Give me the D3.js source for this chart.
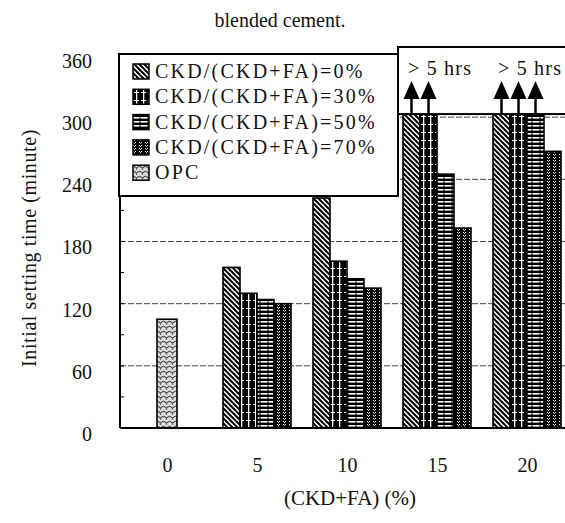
<!DOCTYPE html>
<html><head><meta charset="utf-8">
<script src="https://cdn.jsdelivr.net/npm/d3@7"></script>
<style>
body{margin:0;background:#fff;}
svg{display:block;}
</style></head>
<body>
<svg id="chart" width="565" height="523"></svg>
<script>
// ---- data ----
const categories = [0, 5, 10, 15, 20];
const seriesNames = ["CKD/(CKD+FA)=0%", "CKD/(CKD+FA)=30%", "CKD/(CKD+FA)=50%", "CKD/(CKD+FA)=70%"];
const ckd0  = [null, 155, 222, 303, 303];
const ckd30 = [null, 130, 161, 303, 303];
const ckd50 = [null, 124, 144, 245, 303];
const ckd70 = [null, 120, 135, 193, 267];
const opc   = [105, null, null, null, null];
const over5hrs0  = [false, false, false, true, true];
const over5hrs30 = [false, false, false, true, true];
const over5hrs50 = [false, false, false, false, true];
const over5hrs70 = [false, false, false, false, false];
const yTicks = [0, 60, 120, 180, 240, 300, 360];
const overLabel = "> 5 hrs";
const overLabelGroups = [15, 20];
const title = "blended cement.";
const xTitle = "(CKD+FA) (%)";
const yTitle = "Initial setting time (minute)";

const FONT = "'Liberation Serif', 'Times New Roman', serif";
const svg = d3.select("#chart").attr("font-family", FONT).style("font-family", FONT);
const defs = svg.append("defs");

function txt(sel){ return sel.style("font-family", FONT).attr("fill", "#111"); }

// patterns
function pat(id, w, h, bg, draw){
  const p = defs.append("pattern").attr("id", id).attr("patternUnits","userSpaceOnUse")
    .attr("width", w).attr("height", h);
  p.append("rect").attr("width", w).attr("height", h).attr("fill", bg);
  draw(p);
}
pat("p0", 5, 5, "#fff", p => {
  p.append("path").attr("d","M-1,-1 L6,6 M-1,4 L1,6 M4,-1 L6,1").attr("stroke","#000").attr("stroke-width",2);
});
pat("p30", 7, 8, "#000", p => {
  p.append("rect").attr("x",3).attr("y",0).attr("width",1.3).attr("height",8).attr("fill","#fff");
  p.append("rect").attr("x",1).attr("y",4).attr("width",5).attr("height",1).attr("fill","#fff");
});
pat("p50", 8, 4, "#000", p => {
  p.append("rect").attr("x",0).attr("y",1).attr("width",3.5).attr("height",1.6).attr("fill","#fff");
  p.append("rect").attr("x",4.5).attr("y",1).attr("width",3.5).attr("height",1.6).attr("fill","#fff");
});
pat("p70", 6, 6, "#000", p => {
  p.append("path").attr("d","M1,1 L2.5,2.5 L4,1 M1,4 L2.5,5.5 L4,4").attr("stroke","#fff").attr("stroke-width",1).attr("fill","none");
});
pat("popc", 6, 5, "#ddd", p => {
  p.append("path").attr("d","M0,2 Q1.5,0.5 3,2 T6,2").attr("stroke","#222").attr("stroke-width",1).attr("fill","none");
  p.append("circle").attr("cx",4.5).attr("cy",4).attr("r",0.8).attr("fill","#333");
});
const fills = ["url(#p0)","url(#p30)","url(#p50)","url(#p70)"];

// scales
const x = d3.scalePoint().domain(categories).range([167, 527]);
const y = d3.scaleLinear().domain([0, 360]).range([428, 55]);
const barW = 17;
const plotL = 120, plotR = 565;

// title
txt(svg.append("text")).attr("x", 280).attr("y", 27).attr("text-anchor","middle")
  .style("font-size","20px").text(title);

// gridlines
const grid = svg.append("g");
yTicks.filter(v => v > 0 && v < 360).forEach(v => {
  grid.append("line").attr("x1", plotL).attr("x2", plotR).attr("y1", y(v)).attr("y2", y(v))
    .attr("stroke","#333").attr("stroke-width",0.9).attr("stroke-dasharray","6,2");
});

// y axis
const yAxis = d3.axisLeft(y).tickValues(yTicks).tickSize(0).tickPadding(28);
const gy = svg.append("g").attr("transform", `translate(${plotL},0)`).call(yAxis);
gy.attr("font-family", FONT).attr("font-size", 20);
gy.select(".domain").remove();
txt(gy.selectAll("text")).style("font-size","20px").attr("dy","0.62em");
// minor inner ticks
d3.range(30, 360, 30).forEach(v => {
  svg.append("line").attr("x1", plotL).attr("x2", plotL + 4).attr("y1", y(v)).attr("y2", y(v))
    .attr("stroke","#000").attr("stroke-width",1);
});

// x axis (labels only)
const xAxis = d3.axisBottom(x).tickSize(0).tickPadding(30);
const gx = svg.append("g").attr("transform", `translate(0,${y(0)})`).call(xAxis);
gx.attr("font-family", FONT).attr("font-size", 20);
gx.select(".domain").remove();
txt(gx.selectAll("text")).style("font-size","20px");

// bars
const series = [ckd0, ckd30, ckd50, ckd70];
const overs = [over5hrs0, over5hrs30, over5hrs50, over5hrs70];
const bars = svg.append("g");
series.forEach((vals, si) => {
  categories.forEach((c, ci) => {
    const v = vals[ci];
    if (v == null) return;
    const bx = x(c) + (si - 2) * barW;
    bars.append("rect").attr("x", bx).attr("y", y(v)).attr("width", barW).attr("height", y(0) - y(v))
      .attr("fill", fills[si]).attr("stroke","#000").attr("stroke-width",1.6);
  });
});
categories.forEach((c, ci) => {
  const v = opc[ci];
  if (v == null) return;
  bars.append("rect").attr("x", x(c) - 10).attr("y", y(v)).attr("width", 20).attr("height", y(0) - y(v))
    .attr("fill","url(#popc)").attr("stroke","#000").attr("stroke-width",1.6);
});

// axes lines
svg.append("line").attr("x1", plotL).attr("x2", plotL).attr("y1", 54).attr("y2", y(0))
  .attr("stroke","#000").attr("stroke-width",2);
svg.append("line").attr("x1", plotL).attr("x2", plotR).attr("y1", y(0)).attr("y2", y(0))
  .attr("stroke","#000").attr("stroke-width",2);

// legend box
const lg = svg.append("g");
lg.append("rect").attr("x", 119).attr("y", 54).attr("width", 279).attr("height", 142)
  .attr("fill","#fff").attr("stroke","#000").attr("stroke-width",2);
const legendItems = seriesNames.map((n, i) => ({name: n, fill: fills[i]})).concat([{name:"OPC", fill:"url(#popc)"}]);
legendItems.forEach((d, i) => {
  const cy = 71 + i * 25.3;
  lg.append("rect").attr("x", 133).attr("y", cy - 7).attr("width", 16).attr("height", 15)
    .attr("fill", d.fill).attr("stroke","#000").attr("stroke-width",1.5);
  txt(lg.append("text")).attr("x", 155).attr("y", cy + 7)
    .style("font-size","20px").style("letter-spacing", "2.2px").text(d.name);
});

// > 5 hrs box
const ob = svg.append("g");
ob.append("rect").attr("x", 398).attr("y", 47).attr("width", 180).attr("height", y(303) - 47)
  .attr("fill","#fff").attr("stroke","#000").attr("stroke-width",2);
overLabelGroups.forEach(c => {
  txt(ob.append("text")).attr("x", x(c) - 29).attr("y", 75)
    .style("font-size","20px").style("letter-spacing","1.2px").text(overLabel);
});
// arrows
overs.forEach((fl, si) => {
  categories.forEach((c, ci) => {
    if (!fl[ci]) return;
    const cx = x(c) + (si - 2) * barW + barW / 2;
    const top = y(series[si][ci]);
    ob.append("line").attr("x1", cx).attr("x2", cx).attr("y1", top).attr("y2", top - 20)
      .attr("stroke","#000").attr("stroke-width",2.5);
    ob.append("path").attr("d", `M${cx - 8},${top - 15} L${cx + 8},${top - 15} L${cx},${top - 33} Z`)
      .attr("fill","#000");
  });
});

// axis titles
txt(svg.append("text")).attr("x", 350).attr("y", 505).attr("text-anchor","middle")
  .style("font-size","21px").text(xTitle);
txt(svg.append("text")).attr("transform","translate(36,248) rotate(-90)").attr("text-anchor","middle")
  .style("font-size","20px").style("letter-spacing","0.6px").text(yTitle);
</script>
</body></html>
